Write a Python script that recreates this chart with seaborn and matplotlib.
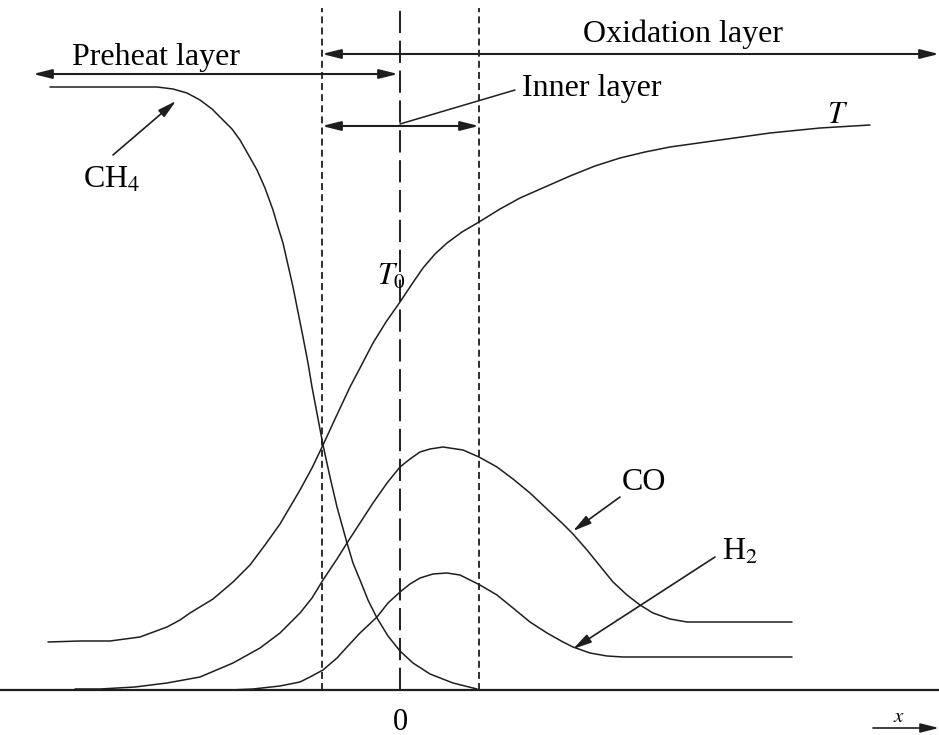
import numpy as np
import pandas as pd
import matplotlib
matplotlib.use("Agg")
import matplotlib.pyplot as plt
import seaborn as sns

# flame structure sketch, x measured from the inner layer (0), y above the baseline
ch4_x = [-350, -300, -260, -243, -227, -213, -200, -188, -177, -168, -160, -152,
         -143, -135, -127, -122, -117, -112, -107, -102, -97, -92, -88, -77,
         -70, -63, -53, -47, -40, -32, -23, -12, 0, 13, 30, 53, 77]
ch4_y = [603, 603, 603, 603, 601, 597, 590, 581, 570, 561, 550, 536,
         520, 502, 480, 463, 447, 425, 403, 378, 353, 327, 303, 245,
         213, 183, 147, 127, 110, 90, 72, 54, 39, 27, 16, 7, 1]

t_x = [-352, -320, -290, -260, -233, -220, -210, -187, -167, -150, -135, -120,
       -110, -100, -88, -77, -65, -50, -40, -27, -14, 0, 12, 23, 35, 47,
       62, 79, 100, 120, 145, 170, 195, 220, 245, 270, 320, 370, 420, 470]
t_y = [48, 49, 49, 53, 63, 70, 77, 91, 108, 125, 145, 166,
       183, 200, 222, 245, 271, 303, 322, 347, 368, 388, 406, 422, 436, 447,
       458, 468, 481, 492, 503, 514, 524, 532, 538, 543, 550, 557, 562, 565]

co_x = [-325, -300, -265, -233, -200, -167, -140, -120, -100, -88, -77, -63,
        -53, -40, -27, -13, 0, 10, 20, 30, 43, 63, 79, 97, 113, 130, 147,
        163, 173, 187, 200, 213, 227, 240, 253, 270, 287, 303, 392]
co_y = [1, 1, 3, 7, 13, 27, 42, 57, 77, 92, 110, 131,
        147, 167, 187, 207, 223, 231, 238, 241, 243, 240, 233, 223, 211, 197, 181,
        166, 156, 140, 124, 108, 95, 85, 77, 71, 68, 68, 68]

h2_x = [-170, -147, -120, -100, -90, -77, -63, -53, -40, -23, -12, 0, 10,
        20, 33, 47, 60, 80, 97, 113, 130, 147, 163, 173, 190, 207, 223, 392]
h2_y = [0, 1, 4, 8, 13, 20, 32, 43, 57, 73, 87, 98, 106,
        112, 116, 117, 115, 105, 95, 82, 68, 57, 48, 43, 37, 34, 33, 33]

layer_edges = [-78, 0, 79]      # preheat/inner boundary, reaction sheet, inner/oxidation boundary
zero_label = "0"

sns.set_theme(style="white")
plt.rcParams["font.family"] = ["Liberation Serif", "DejaVu Serif"]
plt.rcParams["mathtext.fontset"] = "stix"
plt.rcParams["lines.scale_dashes"] = False

ink = "#1e1e1e"
fig = plt.figure(figsize=(9.39, 7.35), dpi=100)
ax = fig.add_axes([0, 0, 1, 1])
ax.set_xlim(-400, 539)
ax.set_ylim(-45, 690)
ax.axis("off")

curves = [(ch4_x, ch4_y), (t_x, t_y), (co_x, co_y), (h2_x, h2_y)]
for cx, cy in curves:
    df = pd.DataFrame({"x": cx, "y": cy})
    sns.lineplot(data=df, x="x", y="y", sort=False, estimator=None,
                 color=ink, lw=1.1, ax=ax)

# baseline
ax.axhline(0, color=ink, lw=1.6)

# layer boundaries
ax.plot([layer_edges[0]] * 2, [0, 682], color=ink, lw=1.3, dashes=(5, 3))
ax.plot([layer_edges[1]] * 2, [0, 682], color=ink, lw=1.4, dashes=(16, 5.5))
ax.plot([layer_edges[2]] * 2, [0, 682], color=ink, lw=1.3, dashes=(5, 3))

txt = dict(color="black", fontsize=23)
two_way = dict(arrowstyle="<|-|>,head_length=0.8,head_width=0.2", color=ink,
               lw=1.5, shrinkA=0, shrinkB=0, mutation_scale=14)
one_way = dict(arrowstyle="-|>,head_length=0.8,head_width=0.2", color=ink,
               lw=1.2, shrinkA=0, shrinkB=0, mutation_scale=14)

# layer spans
ax.annotate("", xy=(-367, 616), xytext=(-2, 616), arrowprops=two_way)
ax.text(-244, 633, "Preheat layer", ha="center", va="center", **txt)
ax.annotate("", xy=(layer_edges[0], 636), xytext=(539, 636), arrowprops=two_way,
            annotation_clip=False)
ax.text(283, 656, "Oxidation layer", ha="center", va="center", **txt)
ax.annotate("", xy=(layer_edges[0], 564), xytext=(layer_edges[2], 564), arrowprops=two_way)
ax.plot([0, 115], [566, 600], color=ink, lw=1.1)
ax.text(122, 602, "Inner layer", ha="left", va="center", **txt)

# species labels
ax.annotate("", xy=(-224, 589), xytext=(-287, 535), arrowprops=one_way)
ax.text(-317, 502, "CH$_4$", ha="left", va="baseline", **txt)
ax.annotate("", xy=(173, 159), xytext=(220, 193), arrowprops=one_way)
ax.text(222, 200, "CO", ha="left", va="baseline", **txt)
ax.annotate("", xy=(173, 41), xytext=(315, 133), arrowprops=one_way)
ax.text(322, 130, "H$_2$", ha="left", va="baseline", **txt)
ax.text(-23, 405, "$T_0$", ha="left", va="baseline", color="black", fontsize=22)
ax.text(427, 567, "$T$", ha="left", va="baseline", color="black", fontsize=22)

# x axis marker
ax.text(0, -32, zero_label, ha="center", va="center", color="black", fontsize=22)
ax.annotate("", xy=(539, -38), xytext=(473, -38), arrowprops=one_way,
            annotation_clip=False)
ax.text(499, -28, "$x$", ha="center", va="center", color="black", fontsize=15)

fig.savefig("out.png", dpi=100, facecolor="white")
